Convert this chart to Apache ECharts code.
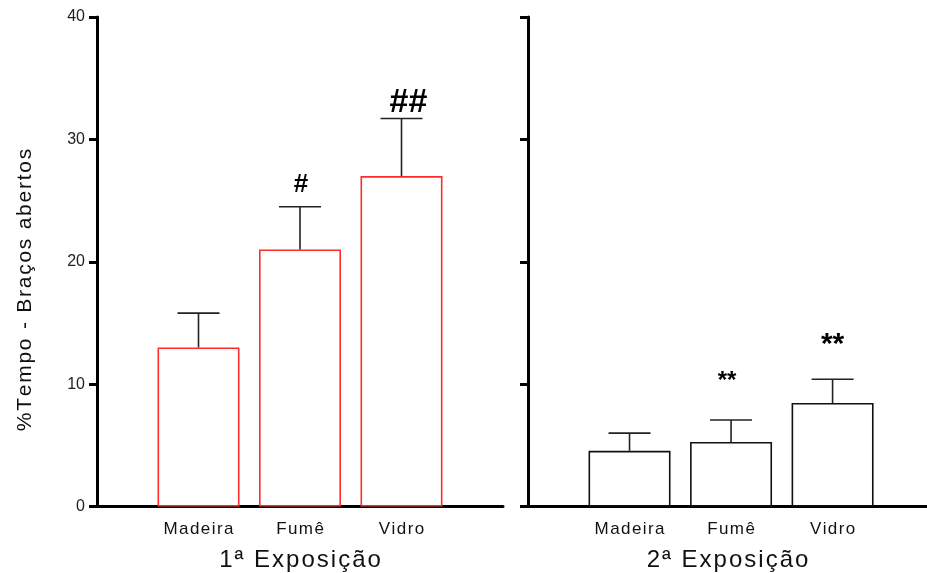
<!DOCTYPE html>
<html><head><meta charset="utf-8">
<script src="https://cdn.jsdelivr.net/npm/echarts@6/dist/echarts.min.js"></script>
<style>html,body{margin:0;padding:0;background:#fff;overflow:hidden}#c{width:927px;height:573px}</style>
</head><body><div id="c"></div>
<script>
const categories = ['Madeira', 'Fumê', 'Vidro'];
const exp1Values = [13.0, 21.0, 27.0];
const exp1ErrTop = [15.8, 24.5, 31.7];
const exp2Values = [4.55, 5.27, 8.46];
const exp2ErrTop = [6.0, 7.07, 10.4];
const exp1Marks = ['', '#', '##'];
const exp1MarkY = [0, 26.3, 33.0];
const exp2Marks = ['', '**', '**'];
const exp2MarkY = [0, 10.2, 13.2];
const yTicks = [0, 10, 20, 30, 40];
const panelNames = ['1ª Exposição', '2ª Exposição'];
const yTitle = '%Tempo - Braços abertos';

const FONT = 'Liberation Sans, Arial, sans-serif';
const spaced = s => s.split('').join('\u200A');
const chart = echarts.init(document.getElementById('c'), null, {renderer: 'canvas', width: 927, height: 573});

function xAxis(idx, name, max) {
  return {
    type: 'value', gridIndex: idx, min: 0, max: max, interval: 1,
    axisLine: {show: true, onZero: false, lineStyle: {color: '#000', width: 3}},
    axisTick: {show: false}, splitLine: {show: false},
    axisLabel: {
      fontFamily: FONT, fontSize: 17, color: '#111', margin: 14,
      formatter: v => (v >= 1 && v <= 3 ? spaced(categories[v - 1]) : '')
    },
    name: spaced(name), nameLocation: 'middle', nameGap: 42,
    nameTextStyle: {fontFamily: FONT, fontSize: 24, color: '#111'}
  };
}
function yAxis(idx, showLabels) {
  return {
    type: 'value', gridIndex: idx, min: 0, max: 40, interval: 10,
    axisLine: {show: true, onZero: false, lineStyle: {color: '#000', width: 3}},
    axisTick: {show: true, length: 8, lineStyle: {color: '#000', width: 3}},
    splitLine: {show: false},
    axisLabel: {show: showLabels, fontFamily: FONT, fontSize: 16, color: '#222', margin: 12,
      formatter: v => yTicks.includes(v) ? String(v) : ''}
  };
}

function barSeries(idx, vals, color) {
  return {
    type: 'bar', xAxisIndex: idx, yAxisIndex: idx, barWidth: 82,
    data: vals.map((v, i) => [i + 1, v]),
    itemStyle: {color: '#fff', borderColor: color, borderWidth: 1.6},
    silent: true, z: 2
  };
}
function errSeries(idx, vals, tops) {
  return {
    type: 'custom', xAxisIndex: idx, yAxisIndex: idx, z: 3,
    data: vals.map((v, i) => [i + 1, v, tops[i]]),
    renderItem: (params, api) => {
      const b = api.coord([api.value(0), api.value(1)]);
      const t = api.coord([api.value(0), api.value(2)]);
      const hw = 21;
      return {type: 'group', children: [
        {type: 'line', shape: {x1: b[0], y1: b[1], x2: t[0], y2: t[1]}, style: {stroke: '#222', lineWidth: 1.6}},
        {type: 'line', shape: {x1: t[0] - hw, y1: t[1], x2: t[0] + hw, y2: t[1]}, style: {stroke: '#222', lineWidth: 1.6}}
      ]};
    }
  };
}
function markSeries(idx, marks, ys, sizes, dx) {
  return {
    type: 'custom', xAxisIndex: idx, yAxisIndex: idx, z: 4,
    data: marks.map((m, i) => [i + 1, ys[i], i]),
    renderItem: (params, api) => {
      const i = api.value(2);
      const p = api.coord([api.value(0), api.value(1)]);
      return {type: 'text', x: p[0] + dx[i], y: p[1], style: {
        text: marks[i], fill: '#000', fontFamily: FONT, fontWeight: 'bold',
        fontSize: sizes[i], align: 'center', verticalAlign: 'middle'}};
    }
  };
}

chart.setOption({
  animation: false,
  grid: [
    {left: 97, width: 406, top: 17, height: 489.5, containLabel: false, outerBoundsMode: 'none'},
    {left: 528, width: 399, top: 17, height: 489.5, containLabel: false, outerBoundsMode: 'none'}
  ],
  xAxis: [xAxis(0, panelNames[0], 4), xAxis(1, panelNames[1], 3.93)],
  yAxis: [yAxis(0, true), yAxis(1, false)],
  graphic: [{
    type: 'text', x: 25, y: 290, rotation: Math.PI / 2,
    style: {text: spaced(yTitle), fontFamily: FONT, fontSize: 21, fill: '#111',
      align: 'center', verticalAlign: 'middle'}
  }],
  series: [
    barSeries(0, exp1Values, '#ff2a2a'),
    errSeries(0, exp1Values, exp1ErrTop),
    markSeries(0, exp1Marks, exp1MarkY, [26, 26, 34], [0, 1, 7]),
    barSeries(1, exp2Values, '#111'),
    errSeries(1, exp2Values, exp2ErrTop),
    markSeries(1, exp2Marks, exp2MarkY, [24, 24, 30], [0, -4, 0])
  ]
});
</script></body></html>
